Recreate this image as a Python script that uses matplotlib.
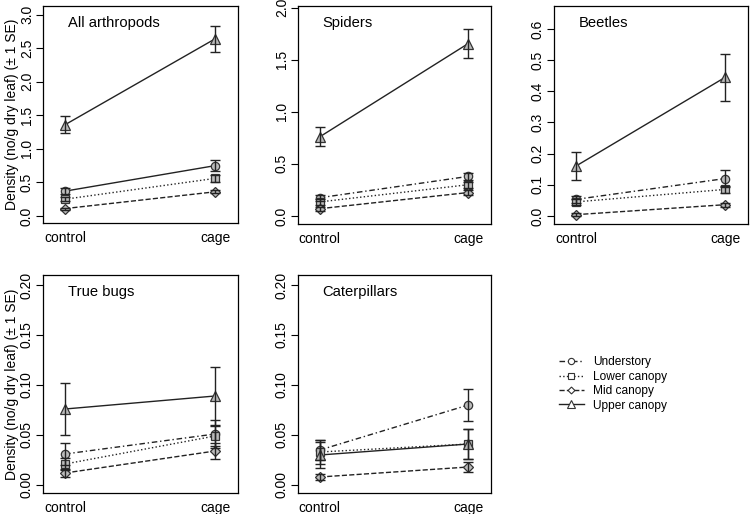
import matplotlib.pyplot as plt
from matplotlib.lines import Line2D

plt.rcParams['font.family'] = ['Liberation Sans', 'DejaVu Sans']

treatments = ['control', 'cage']
strata = ['Understory', 'Lower canopy', 'Mid canopy', 'Upper canopy']
panels = ['All arthropods', 'Spiders', 'Beetles', 'True bugs', 'Caterpillars']

# means (control, cage) per stratum, per panel
means = {
    'All arthropods': [[0.37, 0.75], [0.25, 0.56], [0.11, 0.36], [1.36, 2.64]],
    'Spiders': [[0.175, 0.38], [0.135, 0.30], [0.07, 0.225], [0.76, 1.655]],
    'Beetles': [[0.053, 0.12], [0.045, 0.085], [0.004, 0.036], [0.16, 0.445]],
    'True bugs': [[0.031, 0.051], [0.021, 0.049], [0.012, 0.034], [0.076, 0.089]],
    'Caterpillars': [[0.035, 0.080], [0.033, 0.041], [0.008, 0.018], [0.030, 0.041]],
}
ses = {
    'All arthropods': [[0.05, 0.08], [0.03, 0.05], [0.015, 0.025], [0.13, 0.19]],
    'Spiders': [[0.03, 0.035], [0.03, 0.03], [0.02, 0.02], [0.09, 0.14]],
    'Beetles': [[0.012, 0.027], [0.01, 0.012], [0.004, 0.006], [0.044, 0.075]],
    'True bugs': [[0.011, 0.014], [0.006, 0.01], [0.004, 0.008], [0.026, 0.029]],
    'Caterpillars': [[0.01, 0.016], [0.012, 0.015], [0.003, 0.005], [0.013, 0.015]],
}
yticks = {
    'All arthropods': [0.0, 0.5, 1.0, 1.5, 2.0, 2.5, 3.0],
    'Spiders': [0.0, 0.5, 1.0, 1.5, 2.0],
    'Beetles': [0.0, 0.1, 0.2, 0.3, 0.4, 0.5, 0.6],
    'True bugs': [0.00, 0.05, 0.10, 0.15, 0.20],
    'Caterpillars': [0.00, 0.05, 0.10, 0.15, 0.20],
}
ylims = {
    'All arthropods': (-0.105, 3.13),
    'Spiders': (-0.077, 2.015),
    'Beetles': (-0.026, 0.674),
    'True bugs': (-0.008, 0.21),
    'Caterpillars': (-0.008, 0.21),
}
fmt = {'All arthropods': '%.1f', 'Spiders': '%.1f', 'Beetles': '%.1f',
       'True bugs': '%.2f', 'Caterpillars': '%.2f'}

styles = [(0, (4, 2, 1, 2)), ':', '--', '-']
markers = ['o', 's', 'D', '^']
msizes = [6, 5.5, 5, 7]
# first panel draws understory with a solid line
first_styles = ['-', ':', '--', '-']

W, H = 750, 514
fig = plt.figure(figsize=(7.5, 5.14), dpi=100)
boxes = [(43, 6, 238, 223), (298, 6, 491, 224), (554, 6, 748, 224),
         (43, 275, 238, 493), (298, 275, 491, 493)]

for name, (l, t, r, b) in zip(panels, boxes):
    ax = fig.add_axes([l / W, 1 - b / H, (r - l) / W, (b - t) / H])
    x = [1, 2]
    for i, s in enumerate(strata):
        ls = first_styles[i] if name == 'All arthropods' else styles[i]
        ax.plot(x, means[name][i], color='#222222', lw=1.0, ls=ls, zorder=2)
        ax.plot(x, means[name][i], ls='none', marker=markers[i], ms=msizes[i],
                mfc='#bbbbbb', mec='#333333', mew=0.9, zorder=3)
        ax.errorbar(x, means[name][i], yerr=ses[name][i], fmt='none',
                    ecolor='#222222', elinewidth=1.0, capsize=3.6, capthick=1.0, zorder=4)
    ax.set_xlim(0.853, 2.153)
    ax.set_ylim(*ylims[name])
    ax.set_xticks(x)
    ax.set_xticklabels(treatments, fontsize=10)
    ax.set_yticks(yticks[name])
    ax.set_yticklabels([fmt[name] % v for v in yticks[name]], fontsize=10,
                       rotation=90, va='center')
    ax.tick_params(axis='x', length=0, pad=5.5)
    ax.tick_params(axis='y', length=5, pad=1.5)
    ax.text(0.128, 0.92, name, transform=ax.transAxes, fontsize=10.6, va='center')
    for sp in ax.spines.values():
        sp.set_linewidth(0.9)
    if name in ('All arthropods', 'True bugs'):
        ax.set_ylabel('Density (no/g dry leaf) (\u00b1 1 SE)', fontsize=10, labelpad=1)

handles = []
for i, s in enumerate(strata):
    handles.append(Line2D([], [], color='#222222', lw=1.0, ls=styles[i],
                          marker=markers[i], ms=msizes[i] - 1.5, mfc='white',
                          mec='#333333', mew=0.8))
fig.legend(handles, strata, loc='center left', bbox_to_anchor=(548 / W, 1 - 384 / H),
           frameon=False, fontsize=8.6, handlelength=2.1, handletextpad=0.8,
           labelspacing=0.2)

fig.savefig('out.png', dpi=100)
